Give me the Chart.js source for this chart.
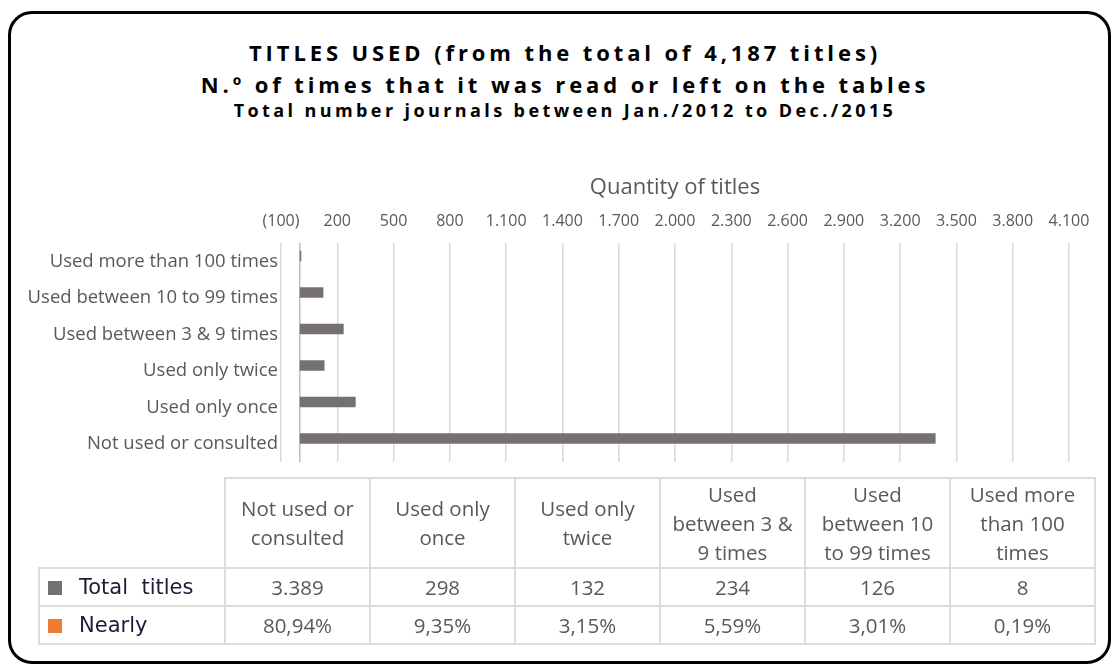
<!DOCTYPE html>
<html>
<head>
<meta charset="utf-8">
<script src="https://cdn.jsdelivr.net/npm/chart.js@4.4.1/dist/chart.umd.min.js"></script>
<style>
  body { margin: 0; width: 1112px; height: 666px; position: relative; overflow: hidden; background: #fff; font-family: "Open Sans", sans-serif; }
  #marco { position: absolute; left: 8px; top: 11px; width: 1103px; height: 653px; box-sizing: border-box; border: 3px solid #000; border-radius: 24px; }
  .titulo { position: absolute; left: 9px; width: 1112px; text-align: center; font-weight: 700; color: #000; white-space: nowrap; }
  #t1 { top: 38px; font-size: 22px; line-height: 28px; letter-spacing: 3.9px; }
  #t2 { top: 70px; font-size: 22px; line-height: 28px; letter-spacing: 3.9px; }
  #t3 { top: 98px; font-size: 18px; line-height: 24px; letter-spacing: 3.4px; }
  #chart { position: absolute; left: 0; top: 0; }
  #tabla { position: absolute; left: 38px; top: 477px; border-collapse: collapse; table-layout: fixed; color: #595959; font-size: 20.5px; }
  #tabla td { border: 2px solid #dcdcdc; text-align: center; padding: 0 6px; line-height: 29px; }
  #tabla td.vacia { border: none; }
  #tabla td.serie { text-align: left; font-family: "DejaVu Sans", sans-serif; font-size: 21px; color: #1c1c36; padding-left: 8px; white-space: pre; }
  .cuadro { display: inline-block; width: 14px; height: 14px; margin-right: 17px; vertical-align: -1px; }
</style>
</head>
<body>
<div id="marco"></div>
<div class="titulo" id="t1">TITLES USED (from the total of 4,187 titles)</div>
<div class="titulo" id="t2">N.º of times that it was read or left on the tables</div>
<div class="titulo" id="t3">Total number journals between Jan./2012 to Dec./2015</div>
<canvas id="chart" width="1112" height="666"></canvas>
<table id="tabla"></table>
<script>
const categorias = [
  "Not used or consulted",
  "Used only once",
  "Used only twice",
  "Used between 3 & 9 times",
  "Used between 10 to 99 times",
  "Used more than 100 times"
];
const totalTitulos = [3389, 298, 132, 234, 126, 8];
const porcentajes = [0.8094, 0.0935, 0.0315, 0.0559, 0.0301, 0.0019];
const nombresSeries = ["Total  titles", "Nearly"];
const coloresSeries = ["#767171", "#ED7D31"];
const ticksX = [-100, 200, 500, 800, 1100, 1400, 1700, 2000, 2300, 2600, 2900, 3200, 3500, 3800, 4100];

function miles(n) {
  return String(Math.abs(n)).replace(/\B(?=(\d{3})+(?!\d))/g, ".");
}

function formatoTick(v) {
  if (v < 0) return "(" + miles(v) + ")";
  return miles(v);
}

function formatoPct(p) {
  return (p * 100).toFixed(2).replace(".", ",") + "%";
}

function armarTabla() {
  const tabla = document.getElementById("tabla");
  let html = "<colgroup><col style='width:186px'>";
  for (let i = 0; i < categorias.length; i++) html += "<col style='width:145px'>";
  html += "</colgroup>";

  html += "<tr style='height:90px'><td class='vacia'></td>";
  for (let i = 0; i < categorias.length; i++) {
    html += "<td>" + categorias[i] + "</td>";
  }
  html += "</tr>";

  const filas = [totalTitulos.map(miles), porcentajes.map(formatoPct)];
  for (let s = 0; s < nombresSeries.length; s++) {
    html += "<tr style='height:38px'><td class='serie'><span class='cuadro' style='background:" +
      coloresSeries[s] + "'></span>" + nombresSeries[s] + "</td>";
    for (let i = 0; i < filas[s].length; i++) {
      html += "<td>" + filas[s][i] + "</td>";
    }
    html += "</tr>";
  }
  tabla.innerHTML = html;
}

const lineaCero = {
  id: "lineaCero",
  beforeDatasetsDraw(chart) {
    const x = chart.scales.x.getPixelForValue(0);
    const area = chart.chartArea;
    const ctx = chart.ctx;
    ctx.save();
    ctx.strokeStyle = "#bfbfbf";
    ctx.lineWidth = 1.5;
    ctx.beginPath();
    ctx.moveTo(x, area.top);
    ctx.lineTo(x, area.bottom);
    ctx.stroke();
    ctx.restore();
  }
};

armarTabla();

new Chart(document.getElementById("chart"), {
  type: "bar",
  data: {
    labels: categorias,
    datasets: [
      { label: nombresSeries[0], data: totalTitulos, backgroundColor: coloresSeries[0], categoryPercentage: 0.575, barPercentage: 1 },
      { label: nombresSeries[1], data: porcentajes, backgroundColor: coloresSeries[1], categoryPercentage: 0.575, barPercentage: 1 }
    ]
  },
  options: {
    indexAxis: "y",
    responsive: false,
    animation: false,
    layout: { padding: { left: 0, right: 43, top: 171, bottom: 204 } },
    plugins: {
      legend: { display: false },
      title: { display: false },
      tooltip: { enabled: false }
    },
    scales: {
      x: {
        position: "top",
        min: -100,
        max: 4100,
        afterBuildTicks: function (s) {
          s.ticks = ticksX.map(function (v) { return { value: v }; });
        },
        afterFit: function (s) { s.height = 72; },
        grid: { color: "#d9d9d9", lineWidth: 1.5, drawTicks: false },
        border: { display: false },
        ticks: {
          color: "#595959",
          font: { family: "Open Sans", size: 16 },
          padding: 12,
          maxRotation: 0,
          autoSkip: false,
          callback: function (v) { return formatoTick(v); }
        },
        title: {
          display: true,
          text: "Quantity of titles",
          color: "#595959",
          font: { family: "Open Sans", size: 22 },
          padding: { top: 4, bottom: 0 }
        }
      },
      y: {
        reverse: true,
        afterFit: function (s) { s.width = 281; },
        grid: { display: false, drawTicks: false },
        border: { display: false },
        ticks: {
          color: "#595959",
          font: { family: "Open Sans", size: 18.5 },
          padding: 3,
          autoSkip: false
        }
      }
    }
  },
  plugins: [lineaCero]
});
</script>
</body>
</html>
